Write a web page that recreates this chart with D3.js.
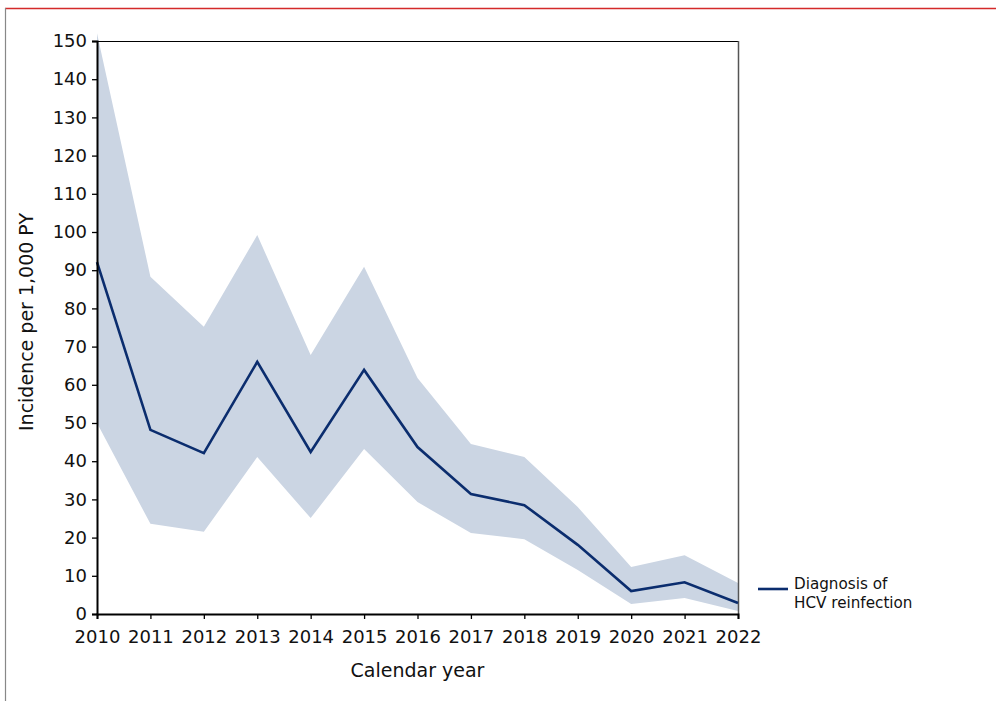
<!DOCTYPE html>
<html><head><meta charset="utf-8">
<script src="https://cdn.jsdelivr.net/npm/d3@7"></script>
<style>body{margin:0;background:#fff;}svg{display:block;font-family:"DejaVu Sans",Verdana,sans-serif;}</style>
</head><body>
<svg id="c" width="996" height="701"></svg>
<script>
const years = [2010,2011,2012,2013,2014,2015,2016,2017,2018,2019,2020,2021,2022];
const incidence = [92.1,48.2,42.1,66.0,42.4,63.9,43.7,31.4,28.5,18.1,6.0,8.3,2.9];
const upperCI = [152,88.3,75.2,99.2,67.8,90.9,61.8,44.5,41.1,28.0,12.3,15.4,8.1];
const lowerCI = [50.0,23.6,21.5,41.1,25.1,43.2,29.3,21.2,19.6,11.5,2.6,4.2,0.8];
const yTicks = [0,10,20,30,40,50,60,70,80,90,100,110,120,130,140,150];
const legendLines = ["Diagnosis of","HCV reinfection"];

const svg = d3.select("#c");
const L=97,R=738,T=41,B=614;
const x = d3.scaleLinear().domain([2010,2022]).range([L,R]);
const y = d3.scaleLinear().domain([0,150]).range([B,T]);

// page frame
svg.append("line").attr("x1",5).attr("x2",996).attr("y1",8.5).attr("y2",8.5).attr("stroke","#d42a2a").attr("stroke-width",1.5);
svg.append("line").attr("x1",5.5).attr("x2",5.5).attr("y1",8).attr("y2",701).attr("stroke","#888").attr("stroke-width",1.2);

const data = years.map((d,i)=>({yr:d,v:incidence[i],lo:lowerCI[i],hi:upperCI[i]}));

svg.append("path").datum(data)
  .attr("d",d3.area().x(d=>x(d.yr)).y0(d=>y(d.lo)).y1(d=>y(d.hi)))
  .attr("fill","#cbd5e3");

// plot borders
svg.append("line").attr("x1",L).attr("x2",R).attr("y1",T+0.5).attr("y2",T+0.5).attr("stroke","#000").attr("stroke-width",1.2);
svg.append("line").attr("x1",R+0.5).attr("x2",R+0.5).attr("y1",T).attr("y2",B).attr("stroke","#555").attr("stroke-width",1.5);

svg.append("path").datum(data)
  .attr("d",d3.line().x(d=>x(d.yr)).y(d=>y(d.v)))
  .attr("fill","none").attr("stroke","#0b2d6e").attr("stroke-width",2.6).attr("stroke-linejoin","miter");

const yAxis = svg.append("g").attr("transform",`translate(${L},0)`)
  .call(d3.axisLeft(y).tickValues(yTicks).tickSize(5).tickPadding(5).tickFormat(d3.format("d")));
const xAxis = svg.append("g").attr("transform",`translate(0,${B})`)
  .call(d3.axisBottom(x).tickValues(years).tickSize(5).tickPadding(7).tickFormat(d3.format("d")));
[yAxis,xAxis].forEach(g=>{
  g.selectAll("text").attr("font-size",18).attr("fill","#111").attr("font-family","DejaVu Sans, Verdana, sans-serif");
  g.selectAll("line").attr("stroke","#000").attr("stroke-width",1.3);
  g.select(".domain").attr("stroke","#000").attr("stroke-width",2);
});
xAxis.selectAll("text").attr("dy","0.95em");

svg.append("text").attr("x",(L+R)/2).attr("y",677).attr("text-anchor","middle")
  .attr("font-size",19).attr("fill","#111").text("Calendar year");
svg.append("text").attr("transform",`translate(33,322) rotate(-90)`).attr("text-anchor","middle")
  .attr("font-size",19).attr("fill","#111").text("Incidence per 1,000 PY");

// legend
svg.append("line").attr("x1",758).attr("x2",788).attr("y1",589).attr("y2",589).attr("stroke","#0b2d6e").attr("stroke-width",2.6);
svg.append("g").selectAll("text").data(legendLines).join("text")
  .attr("x",794).attr("y",(d,i)=>589+i*19).attr("font-size",15.2).attr("fill","#111").text(d=>d);
</script>
</body></html>
